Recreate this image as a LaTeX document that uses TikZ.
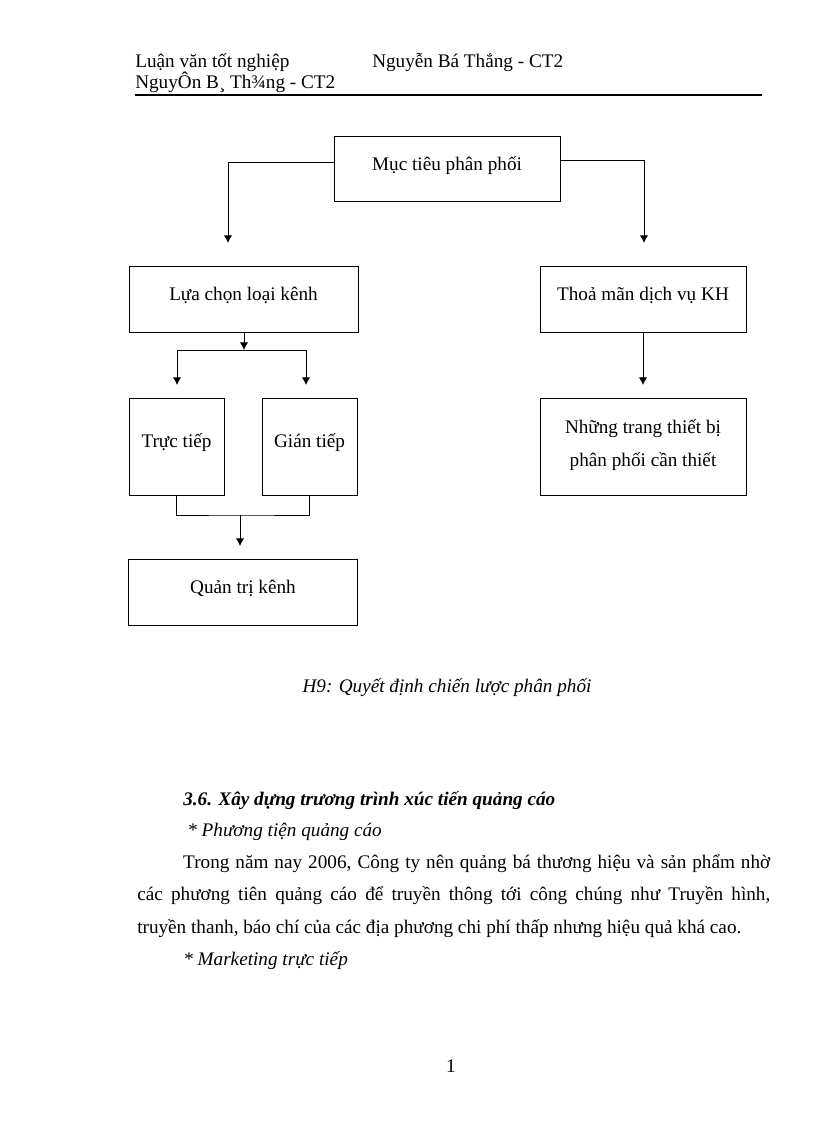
\documentclass[tikz,border=0pt]{standalone}
\usepackage{fontspec}
\setmainfont{Liberation Serif}
\usetikzlibrary{arrows.meta}

\begin{document}
\begin{tikzpicture}[x=0.7292pt, y=-0.7292pt,
	box/.style={draw, line width=0.7pt, inner sep=0pt, font=\fontsize{14pt}{17pt}\selectfont},
	onebox/.style={box, text height=10pt, text depth=8pt},
	arr/.style={line width=0.7pt, -{Latex[length=5.5pt, width=6pt]}},
	link/.style={line width=0.7pt},
	txt/.style={inner sep=0pt, anchor=base west, font=\fontsize{14pt}{17pt}\selectfont}]
\useasboundingbox (0,0) rectangle (816,1123);
% header
\node[txt] (head1) at (135,68) {Luận văn tốt nghiệp};
\node[txt] (head2) at (372,68) {Nguyễn Bá Thắng - CT2};
\node[txt] (head3) at (135,89) {NguyÔn B¸ Th¾ng - CT2};
\draw[line width=1.4pt] (135,95) -- (762,95);

% boxes
\node[onebox, minimum width=164.8pt, minimum height=48.1pt] (goal) at (447,169) {Mục tiêu phân phối};
\node[onebox, minimum width=167pt, minimum height=48.1pt] (choice) at (243.5,299) {Lựa chọn loại kênh};
\node[onebox, minimum width=150.2pt, minimum height=48.1pt] (satisfy) at (643,299) {Thoả mãn dịch vụ KH};
\node[onebox, minimum width=69.3pt, minimum height=70.7pt] (direct) at (176.5,446.5) {Trực tiếp};
\node[onebox, minimum width=69.3pt, minimum height=70.7pt] (indirect) at (309.5,446.5) {Gián tiếp};
\node[box, align=center, minimum width=150.2pt, minimum height=70.7pt] (equip) at (643,446.5) {Những trang thiết bị\\[7pt]phân phối cần thiết\\[-12pt]\mbox{}};
\node[onebox, minimum width=166.3pt, minimum height=48.1pt] (manage) at (243,592) {Quản trị kênh};

% connectors
\coordinate (goalL) at (228,243);
\coordinate (goalR) at (644,243);
\draw[arr] ([yshift=5pt]goal.west) -| (goalL);
\draw[arr] ([yshift=6pt]goal.east) -| (goalR);
\coordinate (split) at (244,350);
\draw[arr] (split |- choice.south) -- (split);
\coordinate (splitL) at (177,385);
\coordinate (splitR) at (306,385);
\draw[arr] (split) -| (splitL);
\draw[arr] (split) -| (splitR);
\coordinate (satD) at (643,385);
\draw[arr] (satisfy.south) -- (satD);
\coordinate (join) at (240,515);
\coordinate (joinD) at (240,546);
\draw[link] (direct.south) |- (join) -| (indirect.south);
\draw[arr] (join) -- (joinD);

% text below
\node[txt, anchor=base, font=\fontsize{14pt}{17pt}\selectfont\itshape] (caption) at (447,692) {H9: Quyết định chiến lược phân phối};
\node[txt, font=\fontsize{14pt}{17pt}\selectfont\bfseries\itshape] (section) at (183,805) {3.6. Xây dựng trương trình xúc tiến quảng cáo};
\node[txt, font=\fontsize{14pt}{17pt}\selectfont\itshape] (media) at (187,836) {* Phương tiện quảng cáo};
\node[txt, text width=461.6pt, align=justify, font=\fontsize{14pt}{23.7pt}\selectfont] (body) at (137,868)
	{\hspace*{33.5pt}Trong năm nay 2006, Công ty nên quảng bá thương hiệu và sản phẩm nhờ\linebreak
	các phương tiên quảng cáo để truyền thông tới công chúng như Truyền hình,\linebreak
	truyền thanh, báo chí của các địa phương chi phí thấp nhưng hiệu quả khá cao.};
\node[txt, font=\fontsize{14pt}{17pt}\selectfont\itshape] (direct mkt) at (183,965) {* Marketing trực tiếp};
\node[txt, anchor=base] (page) at (451,1072) {1};
\end{tikzpicture}
\end{document}
